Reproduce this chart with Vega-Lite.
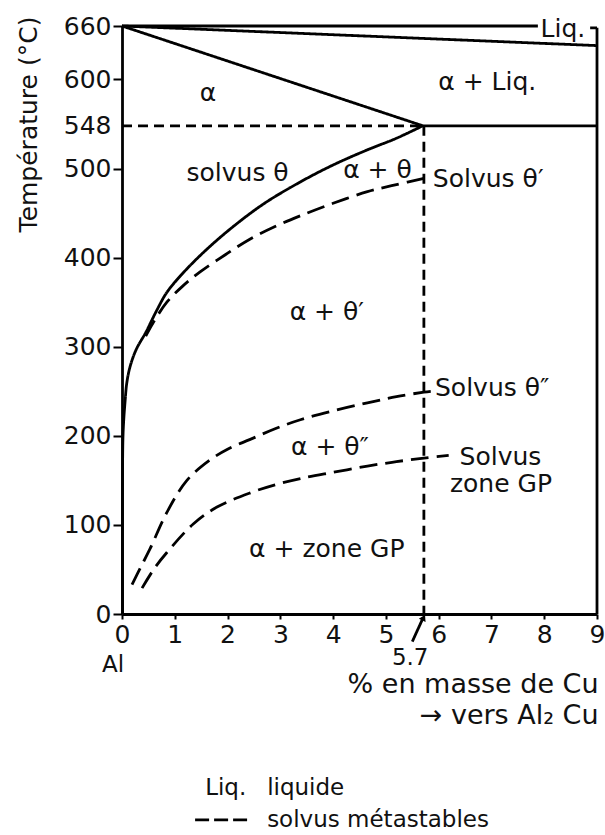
{
  "$schema": "https://vega.github.io/schema/vega-lite/v6.json",
  "width": 475,
  "height": 588,
  "autosize": {"type": "none"},
  "padding": {"left": 122, "top": 26, "right": 8, "bottom": 221},
  "background": "white",
  "config": {
    "view": {"stroke": null},
    "font": "DejaVu Sans",
    "axis": {
      "domainColor": "black", "domainWidth": 2.8, "tickColor": "black", "tickWidth": 2,
      "labelColor": "#111", "labelFont": "DejaVu Sans", "labelFontSize": 25, "grid": false,
      "labelOverlap": false, "labelFlush": false, "labelBound": false,
      "titleFont": "DejaVu Sans", "titleColor": "#111"
    }
  },
  "datasets": {
    "lines": [
      {"id": "top", "style": "solid", "o": 1, "x": 0, "T": 660},
      {"id": "top", "style": "solid", "o": 2, "x": 7.88, "T": 660},
      {"id": "liquidus", "style": "solid", "o": 1, "x": 0, "T": 660},
      {"id": "liquidus", "style": "solid", "o": 2, "x": 9, "T": 638},
      {"id": "solidus", "style": "solid", "o": 1, "x": 0, "T": 660},
      {"id": "solidus", "style": "solid", "o": 2, "x": 5.7, "T": 548},
      {"id": "eutectic", "style": "solid", "o": 1, "x": 5.7, "T": 548},
      {"id": "eutectic", "style": "solid", "o": 2, "x": 9, "T": 548},
      {"id": "border", "style": "solid", "o": 1, "x": 9, "T": 658},
      {"id": "border", "style": "solid", "o": 2, "x": 9, "T": 0},
      {"id": "bracket", "style": "solid", "o": 1, "x": 8.87, "T": 658},
      {"id": "bracket", "style": "solid", "o": 2, "x": 9, "T": 658},
      {"id": "solvus", "style": "solid", "o": 1, "x": 5.7, "T": 548},
      {"id": "solvus", "style": "solid", "o": 2, "x": 5.2, "T": 534},
      {"id": "solvus", "style": "solid", "o": 3, "x": 4.65, "T": 521},
      {"id": "solvus", "style": "solid", "o": 4, "x": 4.0, "T": 504},
      {"id": "solvus", "style": "solid", "o": 5, "x": 3.38, "T": 485},
      {"id": "solvus", "style": "solid", "o": 6, "x": 2.7, "T": 461},
      {"id": "solvus", "style": "solid", "o": 7, "x": 2.11, "T": 435},
      {"id": "solvus", "style": "solid", "o": 8, "x": 1.6, "T": 409},
      {"id": "solvus", "style": "solid", "o": 9, "x": 1.16, "T": 383},
      {"id": "solvus", "style": "solid", "o": 10, "x": 0.85, "T": 361},
      {"id": "solvus", "style": "solid", "o": 11, "x": 0.66, "T": 341},
      {"id": "solvus", "style": "solid", "o": 12, "x": 0.45, "T": 316},
      {"id": "solvus", "style": "solid", "o": 13, "x": 0.27, "T": 297},
      {"id": "solvus", "style": "solid", "o": 14, "x": 0.15, "T": 277},
      {"id": "solvus", "style": "solid", "o": 15, "x": 0.09, "T": 259},
      {"id": "solvus", "style": "solid", "o": 16, "x": 0.06, "T": 240},
      {"id": "solvus", "style": "solid", "o": 17, "x": 0.03, "T": 215},
      {"id": "solvus", "style": "solid", "o": 18, "x": 0.015, "T": 190},
      {"id": "solvus", "style": "solid", "o": 19, "x": 0.01, "T": 0},
      {"id": "iso548", "style": "fine", "o": 1, "x": 0, "T": 548},
      {"id": "iso548", "style": "fine", "o": 2, "x": 5.7, "T": 548},
      {"id": "vert57", "style": "fine", "o": 1, "x": 5.72, "T": 548},
      {"id": "vert57", "style": "fine", "o": 2, "x": 5.72, "T": 0},
      {"id": "thetap", "style": "dash", "o": 1, "x": 0.45, "T": 312},
      {"id": "thetap", "style": "dash", "o": 2, "x": 0.59, "T": 327},
      {"id": "thetap", "style": "dash", "o": 3, "x": 0.85, "T": 350},
      {"id": "thetap", "style": "dash", "o": 4, "x": 1.15, "T": 368},
      {"id": "thetap", "style": "dash", "o": 5, "x": 1.48, "T": 384},
      {"id": "thetap", "style": "dash", "o": 6, "x": 1.95, "T": 403},
      {"id": "thetap", "style": "dash", "o": 7, "x": 2.43, "T": 421},
      {"id": "thetap", "style": "dash", "o": 8, "x": 2.9, "T": 435},
      {"id": "thetap", "style": "dash", "o": 9, "x": 3.38, "T": 447},
      {"id": "thetap", "style": "dash", "o": 10, "x": 4.0, "T": 461},
      {"id": "thetap", "style": "dash", "o": 11, "x": 4.65, "T": 474},
      {"id": "thetap", "style": "dash", "o": 12, "x": 5.2, "T": 482},
      {"id": "thetap", "style": "dash", "o": 13, "x": 5.72, "T": 489},
      {"id": "thetapp", "style": "dash", "o": 1, "x": 0.19, "T": 33},
      {"id": "thetapp", "style": "dash", "o": 2, "x": 0.35, "T": 52},
      {"id": "thetapp", "style": "dash", "o": 3, "x": 0.53, "T": 73},
      {"id": "thetapp", "style": "dash", "o": 4, "x": 0.85, "T": 114},
      {"id": "thetapp", "style": "dash", "o": 5, "x": 1.23, "T": 150},
      {"id": "thetapp", "style": "dash", "o": 6, "x": 1.67, "T": 173},
      {"id": "thetapp", "style": "dash", "o": 7, "x": 2.0, "T": 185},
      {"id": "thetapp", "style": "dash", "o": 8, "x": 2.43, "T": 196},
      {"id": "thetapp", "style": "dash", "o": 9, "x": 2.9, "T": 208},
      {"id": "thetapp", "style": "dash", "o": 10, "x": 3.38, "T": 218},
      {"id": "thetapp", "style": "dash", "o": 11, "x": 4.0, "T": 228},
      {"id": "thetapp", "style": "dash", "o": 12, "x": 4.65, "T": 237},
      {"id": "thetapp", "style": "dash", "o": 13, "x": 5.2, "T": 244},
      {"id": "thetapp", "style": "dash", "o": 14, "x": 5.72, "T": 249},
      {"id": "thetapp", "style": "dash", "o": 15, "x": 5.85, "T": 250},
      {"id": "gp", "style": "dash", "o": 1, "x": 0.38, "T": 29},
      {"id": "gp", "style": "dash", "o": 2, "x": 0.6, "T": 50},
      {"id": "gp", "style": "dash", "o": 3, "x": 0.85, "T": 69},
      {"id": "gp", "style": "dash", "o": 4, "x": 1.35, "T": 101},
      {"id": "gp", "style": "dash", "o": 5, "x": 1.8, "T": 120},
      {"id": "gp", "style": "dash", "o": 6, "x": 2.43, "T": 136},
      {"id": "gp", "style": "dash", "o": 7, "x": 2.9, "T": 145},
      {"id": "gp", "style": "dash", "o": 8, "x": 3.38, "T": 152},
      {"id": "gp", "style": "dash", "o": 9, "x": 4.0, "T": 159},
      {"id": "gp", "style": "dash", "o": 10, "x": 4.65, "T": 166},
      {"id": "gp", "style": "dash", "o": 11, "x": 5.2, "T": 171},
      {"id": "gp", "style": "dash", "o": 12, "x": 5.72, "T": 175},
      {"id": "gp", "style": "dash", "o": 13, "x": 6.19, "T": 178},
      {"id": "arrow", "style": "thin", "o": 1, "x": 5.5, "T": -31},
      {"id": "arrow", "style": "thin", "o": 2, "x": 5.7, "T": -5},
      {"id": "legend", "style": "short", "o": 1, "x": 1.385, "T": -231},
      {"id": "legend", "style": "short", "o": 2, "x": 2.37, "T": -231}
    ],
    "texts": [
      {"kind": "region", "label": "α", "x": 1.63, "T": 585},
      {"kind": "region", "label": "α + Liq.", "x": 6.92, "T": 597},
      {"kind": "region", "label": "solvus  θ", "x": 2.19, "T": 495},
      {"kind": "region", "label": "α + θ", "x": 4.84, "T": 498},
      {"kind": "region", "label": "α + θ′", "x": 3.88, "T": 339},
      {"kind": "region", "label": "α + θ″", "x": 3.94, "T": 187},
      {"kind": "region", "label": "α + zone GP", "x": 3.88, "T": 73},
      {"kind": "region", "label": "Solvus", "x": 7.17, "T": 176},
      {"kind": "region", "label": "zone GP", "x": 7.18, "T": 146},
      {"kind": "curve", "label": "Solvus θ′", "x": 5.89, "T": 488},
      {"kind": "curve", "label": "Solvus θ″", "x": 5.93, "T": 254},
      {"kind": "curve", "label": "Liq.", "x": 7.93, "T": 657},
      {"kind": "tick", "label": "Al", "x": -0.17, "T": -57},
      {"kind": "tick", "label": "5.7", "x": 5.46, "T": -49},
      {"kind": "note", "label": "% en masse de Cu", "x": 9.03, "T": -80},
      {"kind": "note", "label": "→ vers Al₂ Cu", "x": 9.03, "T": -114},
      {"kind": "legend", "label": "Liq.", "x": 1.575, "T": -195},
      {"kind": "legend", "label": "liquide", "x": 2.75, "T": -195},
      {"kind": "legend", "label": "solvus métastables", "x": 2.75, "T": -231}
    ],
    "heads": [
      {"x": 5.715, "T": -4}
    ]
  },
  "encoding": {
    "x": {"field": "x", "type": "quantitative",
      "scale": {"domain": [0, 9], "nice": false, "zero": false},
      "axis": {"values": [0,1,2,3,4,5,6,7,8,9], "title": null, "tickSize": 5, "labelPadding": 3}},
    "y": {"field": "T", "type": "quantitative",
      "scale": {"domain": [0, 660], "nice": false, "zero": false},
      "axis": {"values": [0,100,200,300,400,500,548,600,660], "tickSize": 9, "labelPadding": 2,
        "tickOpacity": {"condition": {"test": "datum.value == 548", "value": 0}, "value": 1},
        "title": "Température (°C)", "titleFontSize": 25, "titleFontWeight": "normal",
        "titleAngle": 270, "titleAlign": "center", "titleBaseline": "middle", "titleX": -94, "titleY": 98}}
  },
  "layer": [
    {
      "data": {"name": "lines"},
      "mark": {"type": "line", "interpolate": "catmull-rom", "color": "black", "strokeCap": "butt"},
      "encoding": {
        "detail": {"field": "id"},
        "order": {"field": "o", "type": "quantitative"},
        "strokeDash": {"field": "style", "type": "nominal", "legend": null,
          "scale": {"domain": ["solid", "dash", "fine", "thin", "short"], "range": [[1, 0], [18, 8], [10, 6], [1, 0], [14, 5]]}},
        "strokeWidth": {"field": "style", "type": "nominal", "legend": null,
          "scale": {"domain": ["solid", "dash", "fine", "thin", "short"], "range": [2.8, 2.8, 1.7, 1.8, 2.8]}}
      }
    },
    {
      "data": {"name": "heads"},
      "mark": {"type": "point", "shape": "triangle-up", "filled": true, "color": "black", "size": 55, "angle": 26, "opacity": 1}
    },
    {
      "data": {"name": "texts"},
      "transform": [{"filter": "datum.kind == 'region'"}],
      "mark": {"type": "text", "font": "DejaVu Sans", "fontSize": 25, "align": "center", "baseline": "middle", "color": "#111"},
      "encoding": {"text": {"field": "label"}}
    },
    {
      "data": {"name": "texts"},
      "transform": [{"filter": "datum.kind == 'curve'"}],
      "mark": {"type": "text", "font": "DejaVu Sans", "fontSize": 25, "align": "left", "baseline": "middle", "color": "#111"},
      "encoding": {"text": {"field": "label"}}
    },
    {
      "data": {"name": "texts"},
      "transform": [{"filter": "datum.kind == 'tick'"}],
      "mark": {"type": "text", "font": "DejaVu Sans", "fontSize": 23, "align": "center", "baseline": "middle", "color": "#111"},
      "encoding": {"text": {"field": "label"}}
    },
    {
      "data": {"name": "texts"},
      "transform": [{"filter": "datum.kind == 'note'"}],
      "mark": {"type": "text", "font": "DejaVu Sans", "fontSize": 27, "align": "right", "baseline": "middle", "color": "#111"},
      "encoding": {"text": {"field": "label"}}
    },
    {
      "data": {"name": "texts"},
      "transform": [{"filter": "datum.kind == 'legend'"}],
      "mark": {"type": "text", "font": "DejaVu Sans", "fontSize": 23, "align": "left", "baseline": "middle", "color": "#111"},
      "encoding": {"text": {"field": "label"}}
    }
  ]
}
